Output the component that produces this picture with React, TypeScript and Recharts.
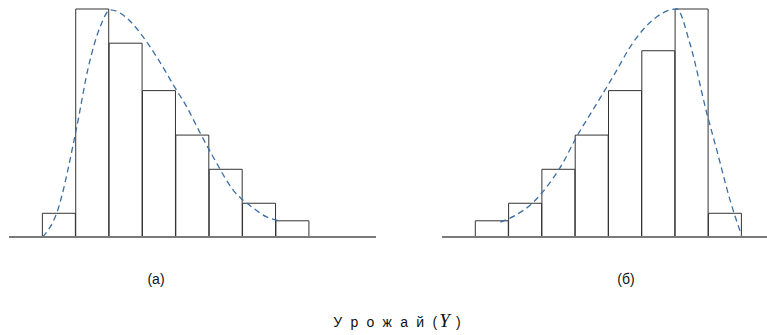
import React from "react";
import { ComposedChart, Bar, Line, XAxis, YAxis } from "recharts";

// Bin labels (11 slots on left, 10 on right: empty padding bins around the 8 histogram bars)
const leftBins = ["0", "1", "2", "3", "4", "5", "6", "7", "8", "9", "10"];
const rightBins = ["0", "1", "2", "3", "4", "5", "6", "7", "8", "9"];

// Relative frequencies (max = 100)
const leftFreq = [null, 10.4, 100, 85, 64.2, 44.7, 29.7, 14.8, 7.1, null, null];
const rightFreq = [null, 7.1, 14.8, 29.7, 44.7, 64.2, 81.7, 100, 10.4, null];

// Smooth density curves (x in bin units, v in same units as frequencies)
const leftCurveX = [1.01, 1.43, 2.03, 2.38, 2.73, 3.03, 3.53, 3.93, 4.43, 4.98, 5.33, 5.73, 6.12, 6.72, 7.32, 7.72, 8.17];
const leftCurveV = [0, 10.5, 48.2, 74.6, 92.1, 99.6, 96.1, 89.5, 78.9, 65.4, 57.0, 45.6, 35.1, 20.6, 12.7, 8.8, 7.0];
const rightCurveX = [1.75, 2.2, 2.72, 3.02, 3.63, 4.04, 4.53, 5.13, 5.73, 6.33, 7.05, 7.44, 7.95, 8.25, 8.65, 9.0];
const rightCurveV = [6.5, 9.5, 14.9, 19.7, 32.5, 43.9, 55.7, 70.2, 85.1, 95.2, 100, 85.1, 54.4, 38.2, 16.2, 0.5];

const labelA = "(а)";
const labelB = "(б)";
const titleText = "У р о ж а й (";
const titleVar = "Y";
const titleEnd = " )";

const leftData = leftBins.map((b, i) => ({ bin: b, freq: leftFreq[i] }));
const rightData = rightBins.map((b, i) => ({ bin: b, freq: rightFreq[i] }));
const leftCurve = leftCurveX.map((x, i) => ({ x, v: leftCurveV[i] }));
const rightCurve = rightCurveX.map((x, i) => ({ x, v: rightCurveV[i] }));

const BAR_STROKE = "#333";
const AXIS_STROKE = "#7a7a7a";
const CURVE = "#3a6ea5";

function Hist({ data, curve, width, nBins }: { data: any[]; curve: any[]; width: number; nBins: number }) {
  return (
    <ComposedChart
      width={width}
      height={232}
      data={data}
      margin={{ top: 2, right: 0, bottom: 0, left: 0 }}
      barCategoryGap={0}
      barGap={0}
    >
      <XAxis
        xAxisId="cat"
        dataKey="bin"
        type="category"
        height={2}
        tick={false}
        tickLine={false}
        axisLine={{ stroke: AXIS_STROKE, strokeWidth: 2 }}
      />
      <XAxis xAxisId="num" dataKey="x" type="number" domain={[0, nBins]} hide allowDataOverflow />
      <YAxis hide domain={[0, 100]} />
      <Bar
        xAxisId="cat"
        dataKey="freq"
        fill="none"
        stroke={BAR_STROKE}
        strokeWidth={1}
        isAnimationActive={false}
      />
      <Line
        xAxisId="num"
        data={curve}
        dataKey="v"
        type="monotone"
        stroke={CURVE}
        strokeWidth={1.3}
        strokeDasharray="6 4"
        dot={false}
        activeDot={false}
        isAnimationActive={false}
      />
    </ComposedChart>
  );
}

export default function App() {
  return (
    <div
      style={{
        position: "absolute",
        left: 0,
        top: 0,
        width: 767,
        height: 335,
        overflow: "hidden",
        background: "#fff",
        fontFamily: "'Liberation Sans', Arial, sans-serif",
      }}
    >
      <div style={{ position: "absolute", left: 9, top: 7 }}>
        <Hist data={leftData} curve={leftCurve} width={367} nBins={11} />
      </div>
      <div style={{ position: "absolute", left: 442, top: 7 }}>
        <Hist data={rightData} curve={rightCurve} width={333} nBins={10} />
      </div>
      <div
        style={{
          position: "absolute",
          left: 106,
          top: 271,
          width: 100,
          textAlign: "center",
          fontSize: 14,
          lineHeight: "16px",
          color: "#111",
        }}
      >
        {labelA}
      </div>
      <div
        style={{
          position: "absolute",
          left: 576,
          top: 271,
          width: 100,
          textAlign: "center",
          fontSize: 14,
          lineHeight: "16px",
          color: "#111",
        }}
      >
        {labelB}
      </div>
      <div
        style={{
          position: "absolute",
          left: 248,
          top: 311,
          width: 300,
          textAlign: "center",
          fontSize: 14,
          lineHeight: "20px",
          letterSpacing: 2.2,
          color: "#111",
          whiteSpace: "pre",
        }}
      >
        {titleText}
        <span
          style={{
            fontFamily: "'Liberation Serif', 'Times New Roman', serif",
            fontStyle: "italic",
            fontSize: 19,
            letterSpacing: 0,
          }}
        >
          {titleVar}
        </span>
        {titleEnd}
      </div>
    </div>
  );
}
